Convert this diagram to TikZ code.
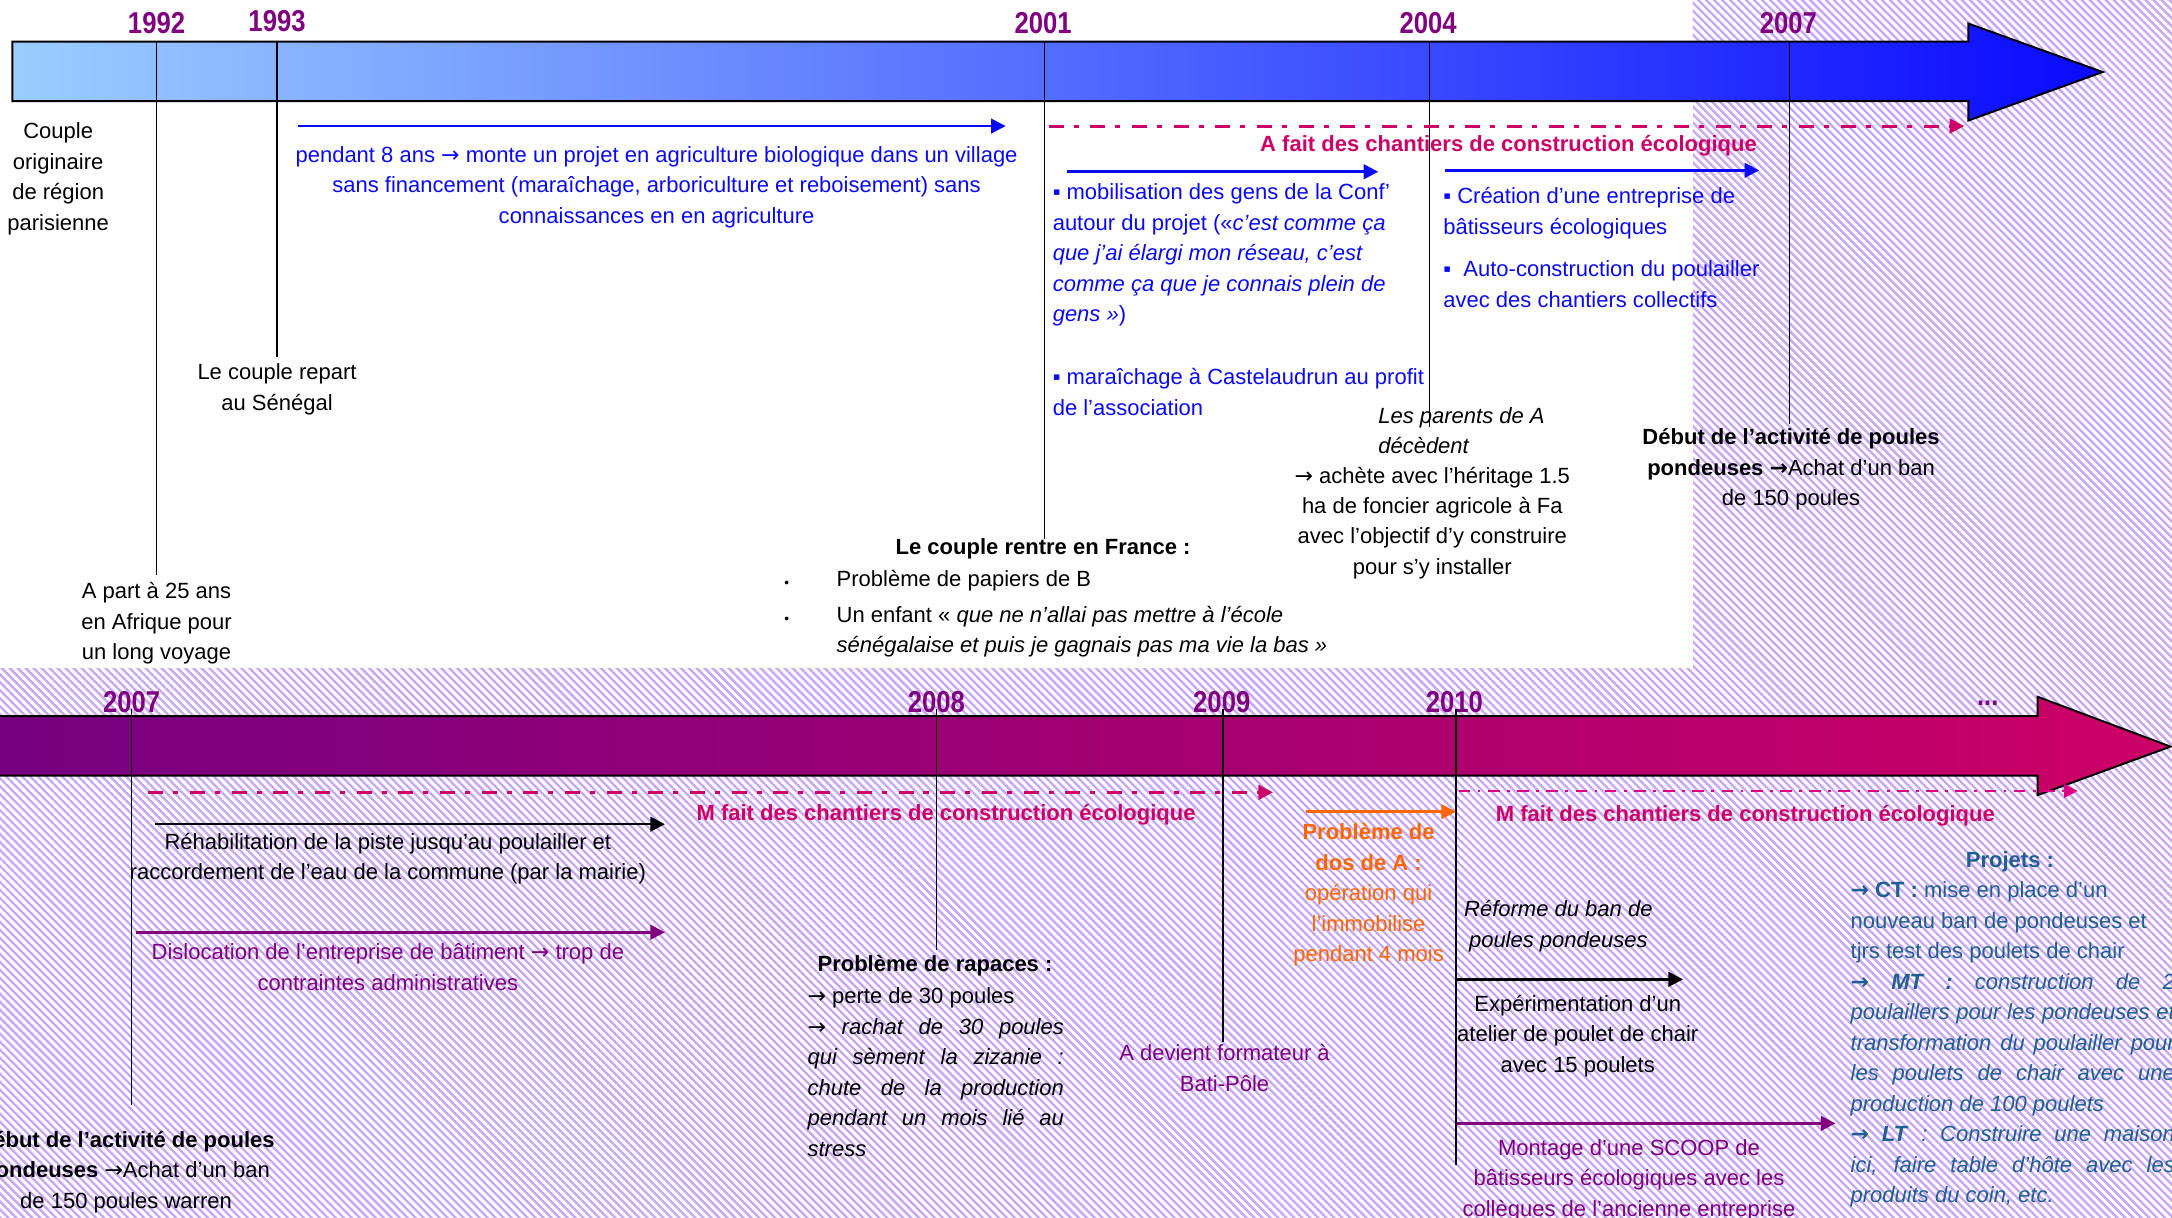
\documentclass[tikz,border=0pt]{standalone}
\usepackage{fontspec}
\setmainfont{Liberation Sans}
\newfontfamily\yearfont[FakeStretch=0.85]{Liberation Sans}
\newfontfamily\arrowfont{DejaVu Sans}
\newcommand\rarr{{\arrowfont →}}
\usetikzlibrary{arrows.meta,patterns.meta}
\definecolor{yearpurple}{RGB}{128,0,128}
\definecolor{txtblue}{RGB}{10,10,245}
\definecolor{crimson}{RGB}{204,0,102}
\definecolor{pinkdash}{RGB}{222,0,130}
\definecolor{purp}{RGB}{128,0,128}
\definecolor{orng}{RGB}{255,102,0}
\definecolor{projblue}{RGB}{31,95,145}
\definecolor{hatchc}{RGB}{200,165,245}
\definecolor{topL}{RGB}{155,205,255}
\definecolor{topM}{RGB}{110,150,255}
\definecolor{topR}{RGB}{10,10,255}
\definecolor{botL}{RGB}{118,0,128}
\definecolor{botM}{RGB}{175,0,112}
\definecolor{botR}{RGB}{204,0,102}
\newlength\jwA \setlength\jwA{4.625cm}
\newlength\jwB \setlength\jwB{5.85cm}
\tikzset{
  every node/.style={inner sep=0pt, outer sep=0pt},
  body/.style={font=\fontsize{11.3}{15.65}\selectfont},
  bodyb/.style={font=\fontsize{11.3}{15.65}\selectfont\bfseries},
  yr/.style={font=\yearfont\bfseries\fontsize{15.5}{18}\selectfont, text=yearpurple},
  yline/.style={draw=black, line width=0.8pt},
  sarrow/.style={line width=1.3pt, -{Triangle[length=7.5pt,width=7.5pt]}},
  dashA/.style={draw=crimson, line width=1.5pt, dash pattern=on 7.7pt off 5.1pt on 2.6pt off 6pt, -{Triangle[length=7.5pt,width=7.5pt]}},
  dashB/.style={draw=pinkdash, line width=1pt, dash pattern=on 6pt off 3.8pt on 1.4pt off 3.8pt, -{Triangle[length=7pt,width=7pt]}},
  bar/.style={draw=black, line width=1pt}
}
\begin{document}
\begin{tikzpicture}[x=0.025cm,y=-0.025cm]
\useasboundingbox (0,0) rectangle (1568,879);
\clip (0,0) rectangle (1568,879);
% background
\fill[white] (0,0) rectangle (1568,879);
\fill[pattern={Lines[angle=-45,distance=2.9pt,line width=1.2pt]}, pattern color=hatchc] (0,0) rectangle (1568,879);
\fill[white] (0,0) rectangle (1222,482);

% timeline bars
\shadedraw[bar, left color=topL, middle color=topM, right color=topR]
  (9,30) -- (1421,30) -- (1421,17) -- (1518,52) -- (1421,87) -- (1421,73) -- (9,73) -- cycle;
\shadedraw[bar, left color=botL, middle color=botM, right color=botR]
  (-5,517) -- (1471,517) -- (1471,503) -- (1567,539) -- (1471,574) -- (1471,560) -- (-5,560) -- cycle;

% year labels
\node[yr] (y1992) at (113,17) {1992};
\node[yr] (y1993) at (200,15) {1993};
\node[yr] (y2001) at (753,17) {2001};
\node[yr] (y2004) at (1031,17) {2004};
\node[yr] (y2007a) at (1291,17) {2007};
\node[yr] (y2007b) at (95,507) {2007};
\node[yr] (y2008) at (676,507) {2008};
\node[yr] (y2009) at (882,507) {2009};
\node[yr] (y2010) at (1050,507) {2010};
\node[yr] (ydots) at (1435,508) {...};

% year line end points
\coordinate (a1992) at (113,30);  \coordinate (b1992) at (113,415);
\coordinate (a1993) at (200,30);  \coordinate (b1993) at (200,258);
\coordinate (a2001) at (754,30);  \coordinate (b2001) at (754,389);
\coordinate (a2004) at (1032,30); \coordinate (b2004) at (1032,308);
\coordinate (a2007) at (1292,30); \coordinate (b2007) at (1292,306);
\coordinate (c2007) at (95,512);  \coordinate (d2007) at (95,798);
\coordinate (c2008) at (676,512); \coordinate (d2008) at (676,686);
\coordinate (c2009) at (883,512); \coordinate (d2009) at (883,752);
\coordinate (c2010) at (1051,512); \coordinate (d2010) at (1051,841);
\draw[yline] (a1992) -- (b1992);
\draw[yline] (a1993) -- (b1993);
\draw[yline] (a2001) -- (b2001);
\draw[yline] (a2004) -- (b2004);
\draw[yline] (a2007) -- (b2007);
\draw[yline] (c2007) -- (d2007);
\draw[yline] (c2008) -- (d2008);
\draw[yline] (c2009) -- (d2009);
\draw[yline] (c2010) -- (d2010);

% period arrows
\coordinate (p1s) at (215,91);  \coordinate (p1e) at (726,91);
\coordinate (p2s) at (757,91);  \coordinate (p2e) at (1418,91);
\coordinate (p3s) at (770,124); \coordinate (p3e) at (995,124);
\coordinate (p4s) at (1043,123); \coordinate (p4e) at (1270,123);
\coordinate (q1s) at (107,572); \coordinate (q1e) at (919,572);
\coordinate (q2s) at (112,595); \coordinate (q2e) at (480,595);
\coordinate (q3s) at (98,673);  \coordinate (q3e) at (480,673);
\coordinate (q4s) at (943,586); \coordinate (q4e) at (1051,586);
\coordinate (q5s) at (1053,571); \coordinate (q5e) at (1500,571);
\coordinate (q6s) at (1052,707); \coordinate (q6e) at (1215,707);
\coordinate (q7s) at (1052,811); \coordinate (q7e) at (1325,811);
\draw[sarrow, txtblue] (p1s) -- (p1e);
\draw[dashA] (p2s) -- (p2e);
\draw[sarrow, txtblue] (p3s) -- (p3e);
\draw[sarrow, txtblue] (p4s) -- (p4e);
\draw[dashA] (q1s) -- (q1e);
\draw[sarrow, black] (q2s) -- (q2e);
\draw[sarrow, purp] (q3s) -- (q3e);
\draw[sarrow, orng] (q4s) -- (q4e);
\draw[dashB] (q5s) -- (q5e);
\draw[sarrow, black] (q6s) -- (q6e);
\draw[sarrow, purp] (q7s) -- (q7e);

% top texts
\node[body, align=center] (couple) at (42,129) {Couple\\originaire\\de région\\parisienne};
\node[body, text=txtblue, align=center] (pendant) at (474,135) {pendant 8 ans \rarr{} monte un projet en agriculture biologique dans un village\\sans financement (maraîchage, arboriculture et reboisement) sans\\connaissances en en agriculture};
\node[bodyb, text=crimson] (afait) at (1089,105) {A fait des chantiers de construction écologique};
\node[body, text=txtblue, align=left, anchor=west] (mobil) at (760,184) {▪ mobilisation des gens de la Conf’\\autour du projet («\textit{c’est comme ça}\\\textit{que j’ai élargi mon réseau, c’est}\\\textit{comme ça que je connais plein de}\\\textit{gens »})};
\node[body, text=txtblue, align=left, anchor=west] (marai) at (760,283) {▪ maraîchage à Castelaudrun au profit\\de l’association};
\node[body, text=txtblue, align=left, anchor=west] (creation) at (1042,154) {▪ Création d’une entreprise de\\bâtisseurs écologiques};
\node[body, text=txtblue, align=left, anchor=west] (autoc) at (1042,205) {▪\ \ Auto-construction du poulailler\\avec des chantiers collectifs};
\node[body, align=center] (repart) at (200,281) {Le couple repart\\au Sénégal};
\node[body, align=left, anchor=west] (parents) at (995,311) {\textit{Les parents de A}\\\textit{décèdent}};
\node[body, align=center] (achete) at (1034,377.5) {\rarr{} achète avec l’héritage 1.5\\ha de foncier agricole à Fa\\avec l’objectif d’y construire\\pour s’y installer};
\node[body, align=center] (debutA) at (1293,339) {\textbf{Début de l’activité de poules}\\\textbf{pondeuses \rarr}Achat d’un ban\\de 150 poules};
\node[bodyb] (rentre) at (753,396) {Le couple rentre en France :};
\node[font=\fontsize{7}{8}\selectfont] (bul1) at (568,422) {•};
\node[font=\fontsize{7}{8}\selectfont] (bul2) at (568,448) {•};
\node[body, anchor=west] (papiers) at (604,419) {Problème de papiers de B};
\node[body, align=left, anchor=west] (enfant) at (604,456) {Un enfant « \textit{que ne n’allai pas mettre à l’école}\\\textit{sénégalaise et puis je gagnais pas ma vie la bas »}};
\node[body, align=center] (apart) at (113,450) {A part à 25 ans\\en Afrique pour\\un long voyage};

% bottom texts
\node[bodyb, text=crimson] (mfait1) at (683,588) {M fait des chantiers de construction écologique};
\node[body, align=center] (rehab) at (280,620) {Réhabilitation de la piste jusqu’au poulailler et\\raccordement de l’eau de la commune (par la mairie)};
\node[body, align=center, text=purp] (disloc) at (280,698) {Dislocation de l’entreprise de bâtiment \rarr{} trop de\\contraintes administratives};
\node[body, align=center] (debutB) at (91,846) {\textbf{Début de l’activité de poules}\\\textbf{pondeuses} \rarr Achat d’un ban\\de 150 poules warren};
\node[bodyb] (rapT) at (675,697) {Problème de rapaces :};
\node[body, align=left, anchor=west] (rapB) at (583,774) {\rarr{} perte de 30 poules\\
\makebox[\jwA][s]{\rarr{} \textit{rachat de 30 poules}}\\
\makebox[\jwA][s]{\itshape qui sèment la zizanie :}\\
\makebox[\jwA][s]{\itshape chute de la production}\\
\makebox[\jwA][s]{\itshape pendant un mois lié au}\\
\textit{stress}};
\node[body, align=center, text=purp] (bati) at (884,771) {A devient formateur à\\Bati-Pôle};
\node[body, align=center, text=orng] (dos) at (988,646) {\textbf{Problème de}\\\textbf{dos de A :}\\opération qui\\l’immobilise\\pendant 4 mois};
\node[bodyb, text=crimson] (mfait2) at (1260,589) {M fait des chantiers de construction écologique};
\node[body, align=center] (reforme) at (1125,668.5) {\textit{Réforme du ban de}\\\textit{poules pondeuses}};
\node[body, align=center] (experim) at (1139,748) {Expérimentation d’un\\atelier de poulet de chair\\avec 15 poulets};
\node[body, align=center, text=purp] (scoop) at (1176,852) {Montage d’une SCOOP de\\bâtisseurs écologiques avec les\\collègues de l’ancienne entreprise};
\node[bodyb, text=projblue] (projT) at (1451,622) {Projets :};
\node[body, align=left, anchor=west, text=projblue] (projB) at (1336,754) {\textbf{\rarr{} CT :} mise en place d’un\\
nouveau ban de pondeuses et\\
tjrs test des poulets de chair\\
\makebox[\jwB][s]{\textbf{\rarr} \textbf{\textit{MT :}} \textit{construction de 2}}\\
\makebox[\jwB][s]{\itshape poulaillers pour les pondeuses et}\\
\makebox[\jwB][s]{\itshape transformation du poulailler pour}\\
\makebox[\jwB][s]{\itshape les poulets de chair avec une}\\
\textit{production de 100 poulets}\\
\makebox[\jwB][s]{\textbf{\rarr} \textbf{\textit{LT}}\textit{ : Construire une maison}}\\
\makebox[\jwB][s]{\itshape ici, faire table d’hôte avec les}\\
\textit{produits du coin, etc.}};
\end{tikzpicture}
\end{document}
